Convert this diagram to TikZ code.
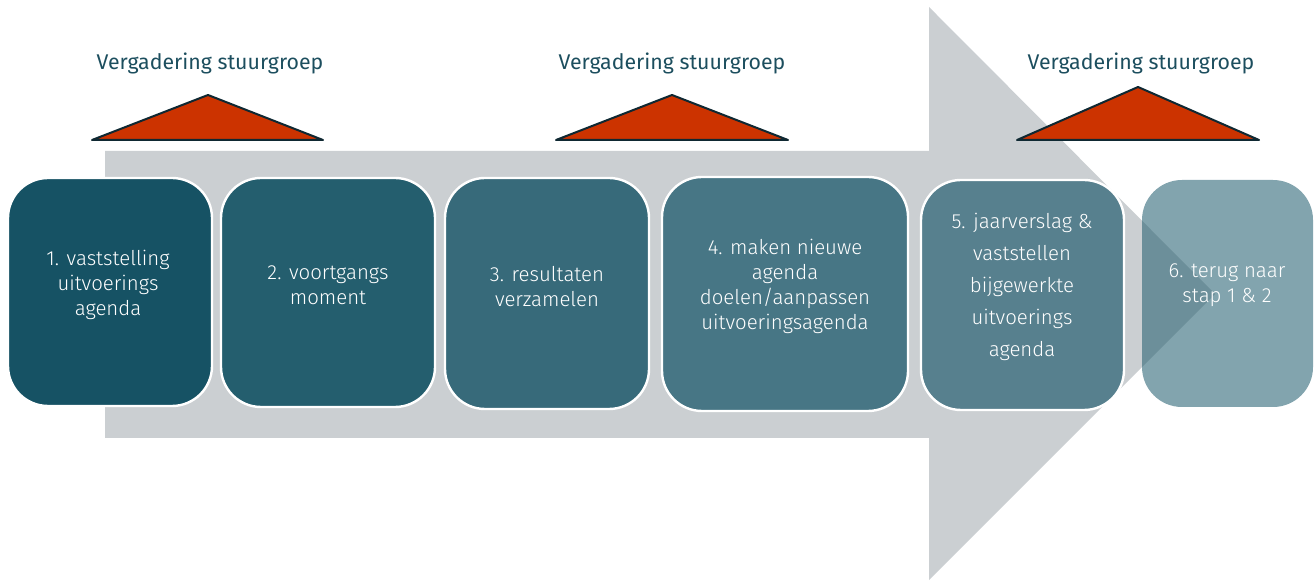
\documentclass[tikz,border=0pt]{standalone}
\usepackage{fontspec}
\setmainfont{Fira Sans}[UprightFont=* Light]
\newfontfamily\labfont{Fira Sans}
\usetikzlibrary{calc}
\definecolor{arrowgray}{RGB}{203,207,210}
\definecolor{trifill}{RGB}{204,51,0}
\definecolor{triline}{RGB}{15,40,50}
\definecolor{labcol}{RGB}{28,78,94}
\definecolor{cA}{RGB}{22,82,100}
\definecolor{cB}{RGB}{36,94,110}
\definecolor{cC}{RGB}{55,106,122}
\definecolor{cD}{RGB}{71,118,133}
\definecolor{cE}{RGB}{87,128,142}
\definecolor{cF}{RGB}{40,98,115}
\begin{document}
\begin{tikzpicture}[x=0.5pt,y=-0.5pt,
  stepbox/.style={draw=white,line width=1.2pt,rounded corners=20pt,inner sep=0pt},
  boxtext/.style={text=white,align=center,font=\fontsize{10.2}{12.5}\selectfont,inner sep=0pt},
  meetlabel/.style={text=labcol,font=\labfont\fontsize{10.65}{12}\selectfont,inner sep=0pt},
  meettri/.style={fill=trifill,draw=triline,line width=1pt,line join=round}]
\useasboundingbox (0,0) rectangle (1315,581);
% big arrow
\fill[arrowgray] (105,151) -- (929,151) -- (929,7) -- (1215,294) -- (929,580) -- (929,438) -- (105,438) -- cycle;
% meeting triangles
\draw[meettri] (92,140) -- (208,95) -- (323,140) -- cycle;
\draw[meettri] (556,140) -- (672,95) -- (788,140) -- cycle;
\draw[meettri] (1017,140) -- (1138,87) -- (1259,140) -- cycle;
\node[meetlabel] (m1) at (210,63) {Vergadering stuurgroep};
\node[meetlabel] (m2) at (672,63) {Vergadering stuurgroep};
\node[meetlabel] (m3) at (1141,63) {Vergadering stuurgroep};
% step boxes
\node[stepbox,fill=cA,minimum width=102pt,minimum height=114pt] (b1) at (110,292) {};
\node[stepbox,fill=cB,minimum width=107pt,minimum height=114.5pt] (b2) at (328,292.5) {};
\node[stepbox,fill=cC,minimum width=102pt,minimum height=115.5pt] (b3) at (547,293.5) {};
\node[stepbox,fill=cD,minimum width=123pt,minimum height=117pt] (b4) at (785,294) {};
\node[stepbox,fill=cE,minimum width=101.5pt,minimum height=115pt] (b5) at (1022.5,295) {};
\node[stepbox,draw=none,fill=cF,fill opacity=0.58,minimum width=85.5pt,minimum height=113.5pt] (b6) at (1227.5,293.5) {};
% texts
\node[boxtext] (t1) at (108,285) {1. vaststelling\\uitvoerings\\agenda};
\node[boxtext] (t2) at (328,285) {2. voortgangs\\moment};
\node[boxtext] (t3) at (547,287) {3. resultaten\\verzamelen};
\node[boxtext] (t4) at (785,286) {4. maken nieuwe\\agenda\\doelen/aanpassen\\uitvoeringsagenda};
\node[boxtext,font=\fontsize{10.2}{16}\selectfont] (t5) at (1022,287) {5. jaarverslag \&\\vaststellen\\bijgewerkte\\uitvoerings\\agenda};
\node[boxtext] (t6) at (1227,285) {6. terug naar\\stap 1 \& 2};
\end{tikzpicture}
\end{document}
